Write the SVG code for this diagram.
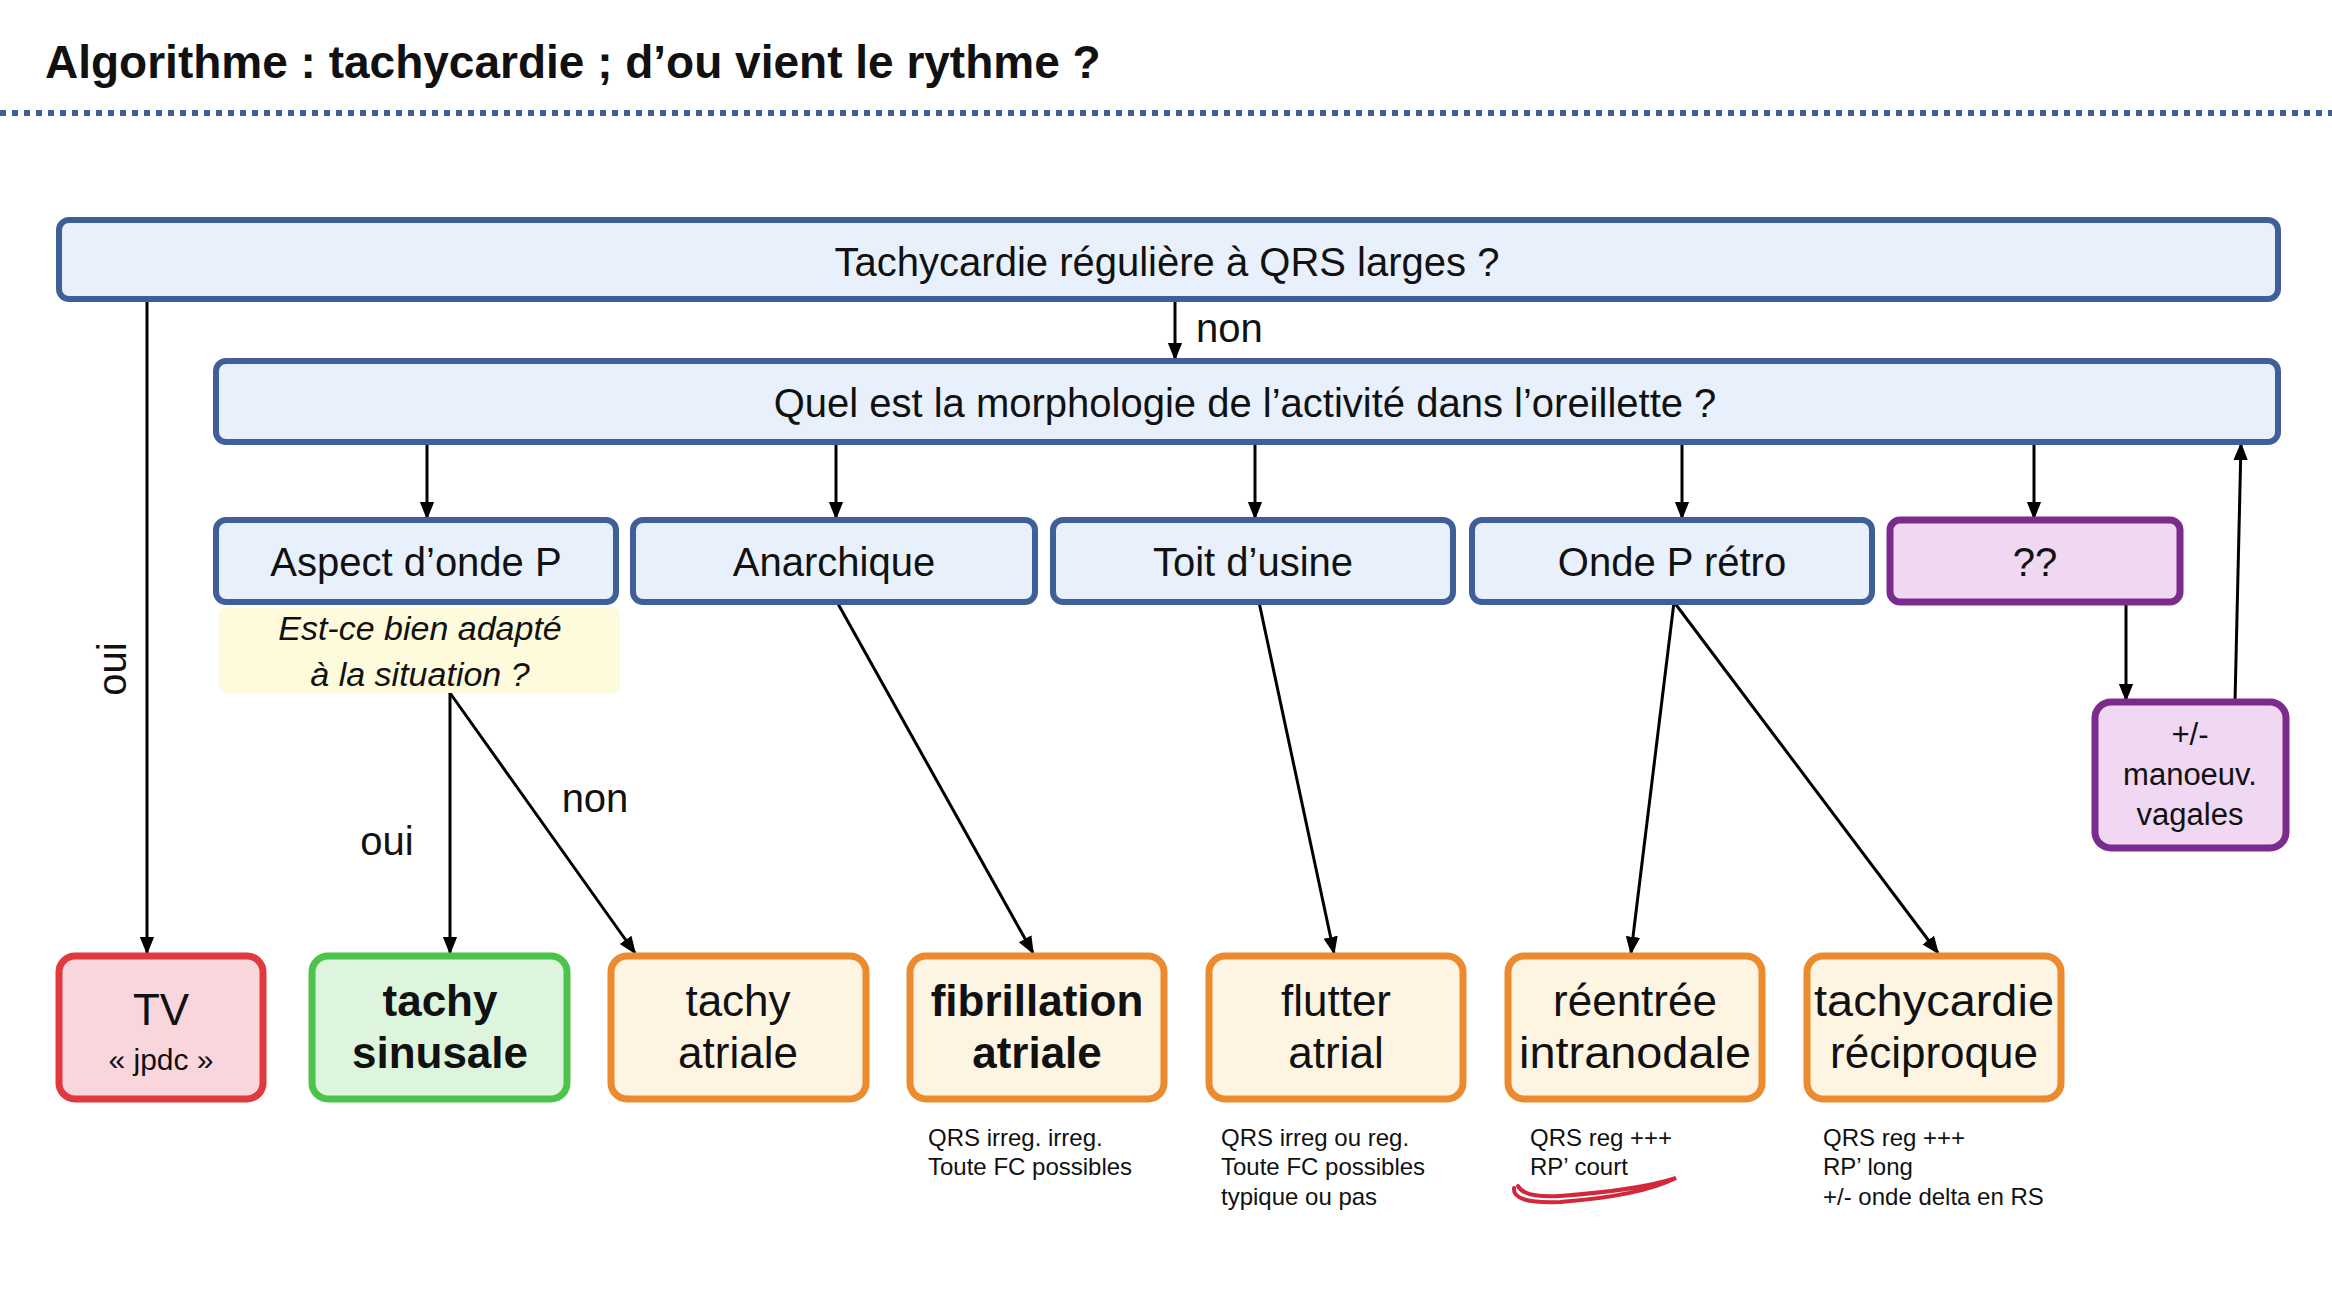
<svg xmlns="http://www.w3.org/2000/svg" width="2332" height="1298" viewBox="0 0 2332 1298">
<defs>
<marker id="ah" viewBox="0 0 10 10" refX="9" refY="5" markerWidth="7" markerHeight="7" markerUnits="userSpaceOnUse" orient="auto"><path d="M0,0 L10,5 L0,10 z" fill="#000"/></marker>
<marker id="a" viewBox="0 0 10 10" refX="9" refY="5" markerWidth="6" markerHeight="6" orient="auto"><path d="M0,1 L10,5 L0,9 z" fill="#000"/></marker>
<style>
text{font-family:"Liberation Sans","DejaVu Sans",sans-serif;fill:#111}
.q{fill:#e8f0fb;stroke:#3f5f99;stroke-width:6}
.o{fill:#fdf5e2;stroke:#ec8a2e;stroke-width:7}
.p{fill:#f0d7f2;stroke:#7b2b8c;stroke-width:7}
.t{font-size:40px;text-anchor:middle}
.b{font-size:44px;text-anchor:middle}
.n{font-size:24px}
.c line{stroke:#000;stroke-width:3;marker-end:url(#a)}
</style>
</defs>
<rect width="2332" height="1298" fill="#fff"/>
<text x="45" y="78" font-size="46" font-weight="bold">Algorithme : tachycardie ; d’ou vient le rythme ?</text>
<line x1="0" y1="113" x2="2332" y2="113" stroke="#3f5f99" stroke-width="6" stroke-dasharray="6,6"/>
<g class="c">
<line x1="147" y1="299" x2="147" y2="953"/>
<line x1="1175" y1="299" x2="1175" y2="359"/>
<line x1="427" y1="442" x2="427" y2="518"/>
<line x1="836" y1="442" x2="836" y2="518"/>
<line x1="1255" y1="442" x2="1255" y2="518"/>
<line x1="1682" y1="442" x2="1682" y2="518"/>
<line x1="2034" y1="442" x2="2034" y2="518"/>
<line x1="2126" y1="602" x2="2126" y2="700"/>
<line x1="2235" y1="702" x2="2241" y2="444"/>
<line x1="450" y1="693" x2="450" y2="953"/>
<line x1="450" y1="693" x2="635" y2="953"/>
<line x1="837" y1="602" x2="1033" y2="953"/>
<line x1="1259" y1="602" x2="1334" y2="953"/>
<line x1="1674" y1="602" x2="1631" y2="953"/>
<line x1="1674" y1="602" x2="1938" y2="953"/>
</g>
<text class="t" transform="translate(126,669) rotate(-90)">oui</text>
<text x="1196" y="342" font-size="40">non</text>
<text class="t" x="387" y="855">oui</text>
<text class="t" x="595" y="812">non</text>
<g id="q1"><rect class="q" x="59" y="220" width="2219" height="79" rx="10"/><text class="t" x="1167" y="276">Tachycardie régulière à QRS larges ?</text></g>
<g id="q2"><rect class="q" x="216" y="361" width="2062" height="81" rx="10"/><text class="t" x="1245" y="417">Quel est la morphologie de l’activité dans l’oreillette ?</text></g>
<g id="aspect"><rect class="q" x="216" y="520" width="400" height="82" rx="10"/><text class="t" x="416" y="576">Aspect d’onde P</text></g>
<g id="anar"><rect class="q" x="633" y="520" width="402" height="82" rx="10"/><text class="t" x="834" y="576">Anarchique</text></g>
<g id="toit"><rect class="q" x="1053" y="520" width="400" height="82" rx="10"/><text class="t" x="1253" y="576">Toit d’usine</text></g>
<g id="retro"><rect class="q" x="1472" y="520" width="400" height="82" rx="10"/><text class="t" x="1672" y="576">Onde P rétro</text></g>
<g id="qq"><rect class="p" x="1890" y="520" width="290" height="82" rx="10"/><text class="t" x="2035" y="576">??</text></g>
<g id="note"><rect x="219" y="607" width="401" height="86" rx="8" fill="#fdfbdc"/><text x="420" y="640" font-size="34" font-style="italic" text-anchor="middle">Est-ce bien adapté</text><text x="420" y="686" font-size="34" font-style="italic" text-anchor="middle">à la situation ?</text></g>
<g id="vagal"><rect class="p" x="2095" y="702" width="191" height="146" rx="16"/><text x="2190" y="745" font-size="31" text-anchor="middle">+/-</text><text x="2190" y="785" font-size="31" text-anchor="middle">manoeuv.</text><text x="2190" y="825" font-size="31" text-anchor="middle">vagales</text></g>
<g id="tv"><rect x="59" y="956" width="204" height="143" rx="16" fill="#f9d6dc" stroke="#e03a3e" stroke-width="7"/><text class="b" x="161" y="1025">TV</text><text x="161" y="1070" font-size="30" text-anchor="middle">« jpdc »</text></g>
<g id="sin"><rect x="312" y="956" width="255" height="143" rx="16" fill="#ddf5dc" stroke="#4cc34a" stroke-width="7"/><text class="b" x="440" y="1016" font-weight="bold">tachy</text><text class="b" x="440" y="1068" font-weight="bold">sinusale</text></g>
<g id="ta"><rect class="o" x="611" y="956" width="255" height="143" rx="16"/><text class="b" x="738" y="1016">tachy</text><text class="b" x="738" y="1068">atriale</text></g>
<g id="fa"><rect class="o" x="910" y="956" width="254" height="143" rx="16"/><text class="b" x="1037" y="1016" font-weight="bold">fibrillation</text><text class="b" x="1037" y="1068" font-weight="bold">atriale</text></g>
<g id="fl"><rect class="o" x="1209" y="956" width="254" height="143" rx="16"/><text class="b" x="1336" y="1016">flutter</text><text class="b" x="1336" y="1068">atrial</text></g>
<g id="rin"><rect class="o" x="1508" y="956" width="254" height="143" rx="16"/><text class="b" x="1635" y="1016">réentrée</text><text class="b" x="1635" y="1068" textLength="232" lengthAdjust="spacingAndGlyphs">intranodale</text></g>
<g id="rec"><rect class="o" x="1807" y="956" width="254" height="143" rx="16"/><text class="b" x="1934" y="1016" textLength="240" lengthAdjust="spacingAndGlyphs">tachycardie</text><text class="b" x="1934" y="1068">réciproque</text></g>
<g id="notes">
<text class="n" x="928" y="1146">QRS irreg. irreg.</text><text class="n" x="928" y="1175">Toute FC possibles</text>
<text class="n" x="1221" y="1146">QRS irreg ou reg.</text><text class="n" x="1221" y="1175">Toute FC possibles</text><text class="n" x="1221" y="1205">typique ou pas</text>
<text class="n" x="1530" y="1146">QRS reg +++</text><text class="n" x="1530" y="1175">RP’ court</text>
<text class="n" x="1823" y="1146">QRS reg +++</text><text class="n" x="1823" y="1175">RP’ long</text><text class="n" x="1823" y="1205">+/- onde delta en RS</text>
</g>
<path d="M1514,1188 Q1512,1204 1560,1202 Q1640,1196 1676,1178 Q1640,1190 1560,1196 Q1524,1198 1518,1186" fill="none" stroke="#d2283c" stroke-width="4" stroke-linecap="round"/>
</svg>
